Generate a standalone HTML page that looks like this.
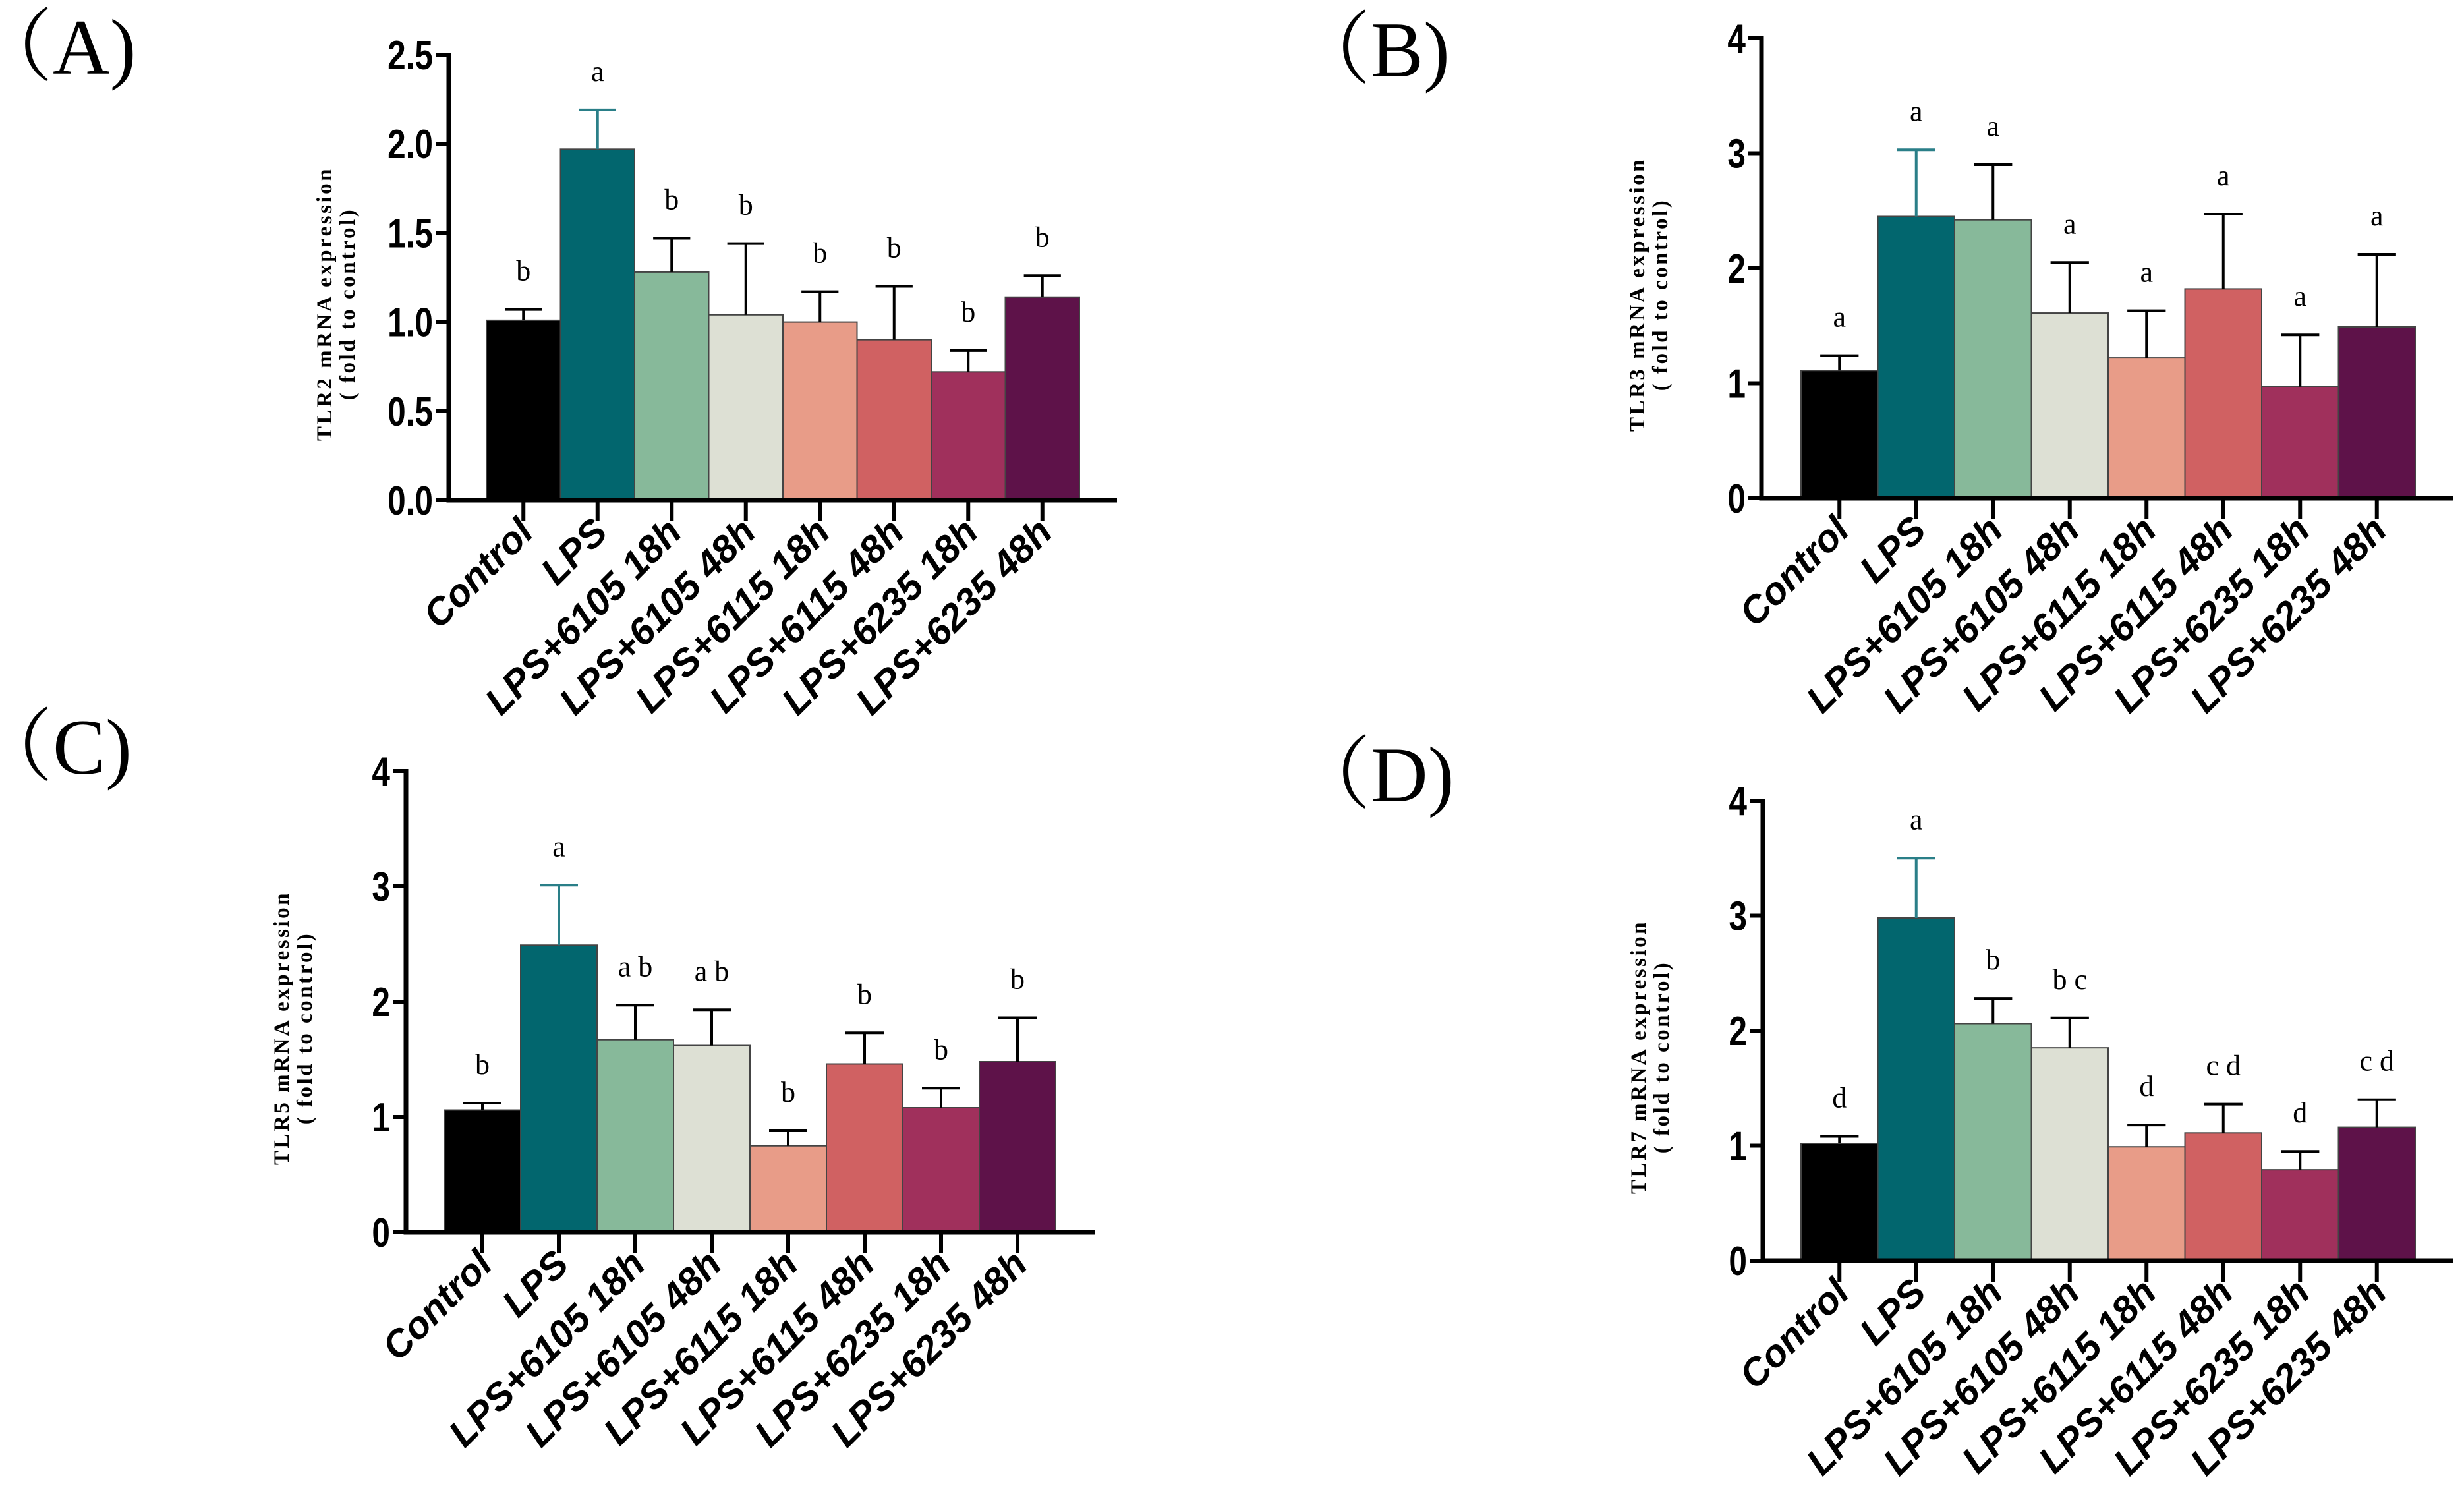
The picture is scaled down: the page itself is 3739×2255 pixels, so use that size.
<!DOCTYPE html>
<html><head><meta charset="utf-8"><style>
html,body{margin:0;padding:0;background:#fff;}
svg{display:block;}
.tick{font-family:"Liberation Sans",sans-serif;font-weight:bold;font-size:62px;}
.cat{font-family:"Liberation Sans",sans-serif;font-weight:bold;font-style:italic;font-size:58px;}
.ytitle{font-family:"Liberation Serif",serif;font-weight:bold;font-size:33px;letter-spacing:3.5px;}
.sig{font-family:"Liberation Serif",serif;font-size:44px;}
.plab{font-family:"Liberation Serif","Noto Serif CJK SC",serif;font-size:120px;}
</style></head><body>
<svg id="fig" width="3739" height="2255" viewBox="0 0 3739 2255" xmlns="http://www.w3.org/2000/svg">
<text class="plab" x="-40" y="112">（A)</text>
<text class="plab" x="1960" y="116">（B)</text>
<text class="plab" x="-40" y="1174">（C)</text>
<text class="plab" x="1960" y="1216">（D)</text>
</svg>
<script>
const categories = ["Control","LPS","LPS+6105 18h","LPS+6105 48h","LPS+6115 18h","LPS+6115 48h","LPS+6235 18h","LPS+6235 48h"];
const tlr2Values = [1.01,1.97,1.28,1.04,1.00,0.90,0.72,1.14];
const tlr2ErrTop = [1.07,2.19,1.47,1.44,1.17,1.20,0.84,1.26];
const tlr2Letters = ["b","a","b","b","b","b","b","b"];
const tlr2Ticks = ["0.0","0.5","1.0","1.5","2.0","2.5"];
const tlr3Values = [1.11,2.45,2.42,1.61,1.22,1.82,0.97,1.49];
const tlr3ErrTop = [1.24,3.03,2.90,2.05,1.63,2.47,1.42,2.12];
const tlr3Letters = ["a","a","a","a","a","a","a","a"];
const tlr3Ticks = ["0","1","2","3","4"];
const tlr5Values = [1.06,2.49,1.67,1.62,0.75,1.46,1.08,1.48];
const tlr5ErrTop = [1.12,3.01,1.97,1.93,0.88,1.73,1.25,1.86];
const tlr5Letters = ["b","a","a b","a b","b","b","b","b"];
const tlr5Ticks = ["0","1","2","3","4"];
const tlr7Values = [1.02,2.98,2.06,1.85,0.99,1.11,0.79,1.16];
const tlr7ErrTop = [1.08,3.50,2.28,2.11,1.18,1.36,0.95,1.40];
const tlr7Letters = ["d","a","b","b c","d","c d","d","c d"];
const tlr7Ticks = ["0","1","2","3","4"];

const colors = ["#000000","#02666e","#87b99a","#dde0d4","#e89c88","#d06162","#a0305c","#5e1249"];
const NS = "http://www.w3.org/2000/svg";
const svg = document.getElementById("fig");
function mk(tag, attrs, parent){const e=document.createElementNS(NS,tag);for(const k in attrs)e.setAttribute(k,attrs[k]);(parent||svg).appendChild(e);return e;}

function panel(id, g, vals, errs, letters, ticks, title){
  const grp = mk("g",{});
  
  
  const ymax = parseFloat(ticks[ticks.length-1]);
  const y = v => g.y0 - (v/ymax)*(g.y0-g.yTop);
  const bw = (g.bx1-g.bx0)/vals.length;
  const xc = i => g.bx0 + bw*(i+0.5);
  vals.forEach((v,i)=>{
    const r = mk("rect",{x:g.bx0+bw*i,y:y(v),width:bw,height:g.y0-y(v),fill:colors[i],stroke:"#444",'stroke-width':2},grp);
    
    
    const ec = i===1 ? "#2a7f88" : "#000";
    const e = mk("path",{d:`M${xc(i)},${y(v)}V${y(errs[i])}M${xc(i)-bw*0.25},${y(errs[i])}H${xc(i)+bw*0.25}`,stroke:ec,'stroke-width':4,fill:"none"},grp);
    
    
    const t = mk("text",{x:xc(i),y:y(errs[i])-44,'text-anchor':'middle',class:'sig'},grp);
    t.textContent = letters[i];
    
    
    const tk = mk("line",{x1:xc(i),x2:xc(i),y1:g.y0,y2:g.y0+32,stroke:"#000",'stroke-width':6},grp);
    
    
    const cx = xc(i)+18, cy = g.y0+52;
    const ct = mk("text",{x:cx,y:cy,'text-anchor':'end',class:'cat',transform:`rotate(-45 ${cx} ${cy})`},grp);
    ct.textContent = categories[i];
    
    
  });
  const ax = mk("path",{d:`M${g.ax},${g.yTop-3}V${g.y0}H${g.xEnd}`,stroke:"#000",'stroke-width':7,fill:"none"},grp);
  
  
  ticks.forEach(tv=>{
    const v=parseFloat(tv);
    const l = mk("line",{x1:g.ax-20,x2:g.ax,y1:y(v),y2:y(v),stroke:"#000",'stroke-width':6},grp);
    
    
    const t = mk("text",{x:0,y:0,'text-anchor':'end',class:'tick',transform:`translate(${g.ax-24},${y(v)+22}) scale(0.8,1)`},grp);
    t.textContent = tv;
    
    
  });
  const ty = (g.y0+g.yTop)/2+40;
  const t1 = mk("text",{x:0,y:0,'text-anchor':'middle',class:'ytitle',transform:`translate(${g.ax-178},${ty}) rotate(-90)`},grp);
  t1.textContent = title;
  
  
  const t2 = mk("text",{x:0,y:0,'text-anchor':'middle',class:'ytitle',transform:`translate(${g.ax-143},${ty}) rotate(-90)`},grp);
  t2.textContent = "( fold to control)";
  
  
}
panel("tlr2",{ax:681,yTop:83,y0:759,bx0:738,bx1:1638,xEnd:1695},tlr2Values,tlr2ErrTop,tlr2Letters,tlr2Ticks,"TLR2 mRNA expression");
panel("tlr3",{ax:2673,yTop:58,y0:756,bx0:2733,bx1:3665,xEnd:3722},tlr3Values,tlr3ErrTop,tlr3Letters,tlr3Ticks,"TLR3 mRNA expression");
panel("tlr5",{ax:616,yTop:1170,y0:1870,bx0:674,bx1:1602,xEnd:1662},tlr5Values,tlr5ErrTop,tlr5Letters,tlr5Ticks,"TLR5 mRNA expression");
panel("tlr7",{ax:2675,yTop:1215,y0:1913,bx0:2733,bx1:3665,xEnd:3722},tlr7Values,tlr7ErrTop,tlr7Letters,tlr7Ticks,"TLR7 mRNA expression");
</script>
</body></html>
